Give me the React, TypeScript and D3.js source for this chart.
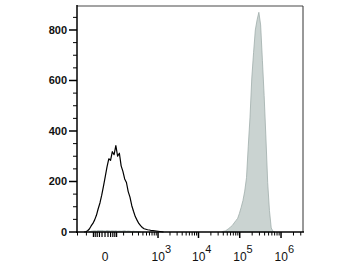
import React from 'react';
import * as d3 from 'd3';

// ---- data ----
const yMajorTicks = [0, 200, 400, 600, 800];
const yMinorTicks = [50, 100, 150, 250, 300, 350, 450, 500, 550, 650, 700, 750, 850];
const yMax = 895;

const xDecades = [1e3, 1e4, 1e5, 1e6];
const xDecadeExponents = ['3', '4', '5', '6'];
const xZeroLabel = '0';
const xLinearTicks = [-50, -40, -30, -20, -10, 0, 10, 20, 30, 40, 50];
const xNegativeTicks = [-200, -100];
const xMantissas = [1, 2, 3, 4, 5, 6, 7, 8, 9];
const xLogExponents = [2, 3, 4, 5, 6];
const xDomain: [number, number] = [-207, 3.4e6];
const symlogConstant = 55;

// histograms on display channels (0..channelCount across the axis)
const channelCount = 128;
const controlStart = 4;
const controlCounts = [
  0, 1, 5, 12, 24, 34, 48, 66, 92, 115, 146, 182, 219, 258, 290, 284, 318, 306,
  342, 300, 312, 262, 240, 210, 196, 160, 138, 105, 82, 61, 47, 34, 25, 18, 13,
  11, 9, 8, 6, 6, 5, 4, 3, 2, 1, 0,
];
const stainedDimStart = 7;
const stainedDimCounts = [
  0, 3, 4, 5, 4, 6, 5, 6, 5, 4, 6, 5, 4, 5, 4, 5, 3, 4, 3, 4, 5, 3, 4, 3, 2, 3,
  2, 2, 1, 0,
];
const stainedBrightStart = 82;
const stainedBrightCounts = [
  0, 3, 4, 9, 14, 20, 26, 36, 45, 54, 74, 98, 125, 162, 215, 340, 455, 610, 710,
  800, 840, 870, 820, 680, 540, 372, 195, 85, 16, 3, 0,
];

const W = 356;
const H = 267;
const left = 77;
const right = 303;
const top = 6;
const bottom = 232;

export default function App() {
  const x = d3.scaleSymlog().constant(symlogConstant).domain(xDomain).range([left, right]);
  const chan = d3.scaleLinear().domain([0, channelCount]).range([left, right]);
  const y = d3.scaleLinear().domain([0, yMax]).range([bottom, top]);

  const area = (start: number) =>
    d3
      .area<number>()
      .x((_, i) => chan(start + i))
      .y0(y(0))
      .y1((d) => y(d));
  const line = d3
    .line<number>()
    .x((_, i) => chan(controlStart + i))
    .y((d) => y(d));

  const minorLog: number[] = [];
  xLogExponents.forEach((e) =>
    xMantissas.forEach((m) => {
      const v = m * Math.pow(10, e);
      if (v <= xDomain[1] && !xDecades.includes(v)) minorLog.push(v);
    })
  );

  const font = "'Liberation Sans', Arial, sans-serif";
  const fill = '#cad3d1';
  const edge = '#9fadab';

  return (
    <svg width={W} height={H} style={{ position: 'absolute', left: 0, top: 0, background: '#fff' }}>
      <rect x={0} y={0} width={W} height={H} fill="#fff" />
      <path d={area(stainedDimStart)(stainedDimCounts) || ''} fill={fill} stroke={edge} strokeWidth={0.8} />
      <path d={area(stainedBrightStart)(stainedBrightCounts) || ''} fill={fill} stroke={edge} strokeWidth={0.8} />
      <path d={line(controlCounts) || ''} fill="none" stroke="#000" strokeWidth={1.2} strokeLinejoin="round" />

      {/* frame */}
      <line x1={left} x2={right} y1={top} y2={top} stroke="#a3a3a3" strokeWidth={2} />
      <line x1={right} x2={right} y1={top} y2={bottom} stroke="#333" strokeWidth={1} />
      <line x1={left} x2={left} y1={top - 1} y2={bottom + 1} stroke="#000" strokeWidth={1.5} />
      <line x1={left - 1} x2={right + 1} y1={bottom} y2={bottom} stroke="#000" strokeWidth={1.5} />

      {/* y ticks */}
      {yMinorTicks.map((v) => (
        <line key={'ym' + v} x1={left - 4} x2={left} y1={y(v)} y2={y(v)} stroke="#000" strokeWidth={1} />
      ))}
      {yMajorTicks.map((v) => (
        <g key={'yM' + v}>
          <line x1={left - 8} x2={left} y1={y(v)} y2={y(v)} stroke="#000" strokeWidth={1.5} />
          <text x={left - 10} y={y(v)} dy="0.35em" textAnchor="end" fontFamily={font} fontWeight="bold" fontSize={11} fill="#111">
            {v}
          </text>
        </g>
      ))}

      {/* x ticks */}
      {[...xNegativeTicks, ...minorLog].map((v) => (
        <line key={'xm' + v} x1={x(v)} x2={x(v)} y1={bottom} y2={bottom + 3.5} stroke="#000" strokeWidth={1} />
      ))}
      {xLinearTicks.map((v) => (
        <line key={'xl' + v} x1={x(v)} x2={x(v)} y1={bottom} y2={bottom + 5} stroke="#000" strokeWidth={1.2} />
      ))}
      {xDecades.map((v) => (
        <line key={'xM' + v} x1={x(v)} x2={x(v)} y1={bottom} y2={bottom + 6} stroke="#000" strokeWidth={1.5} />
      ))}

      {/* x labels */}
      <text x={x(0)} y={261} textAnchor="middle" fontFamily={font} fontSize={12} fill="#111">
        {xZeroLabel}
      </text>
      {xDecades.map((v, i) => (
        <text key={'xt' + v} x={x(v) - 6.5} y={261} fontFamily={font} fontSize={12} fill="#111">
          10
          <tspan dy={-8} fontSize={11}>
            {xDecadeExponents[i]}
          </tspan>
        </text>
      ))}
    </svg>
  );
}
